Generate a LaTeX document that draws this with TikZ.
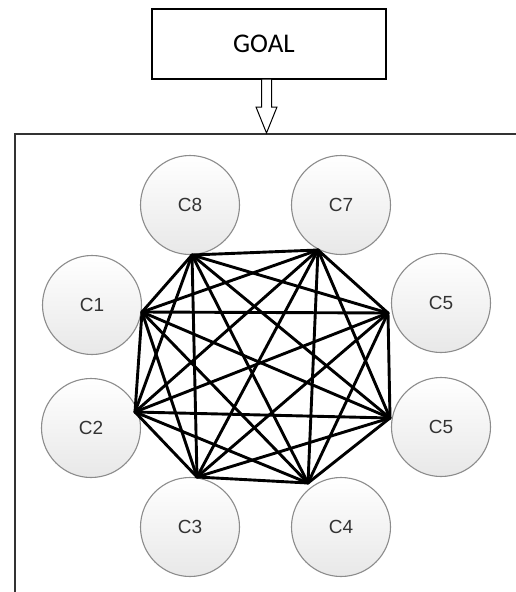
\documentclass[tikz,border=0pt]{standalone}
\usepackage{fontspec}
\setmainfont{Liberation Sans}
\newfontfamily\goalfont{Carlito}
\definecolor{circborder}{HTML}{8C8C8C}
\definecolor{labelgray}{HTML}{333333}
\begin{document}
\begin{tikzpicture}[x=1pt,y=-1pt,
  cnode/.style={circle, draw=circborder, line width=1.1pt, minimum size=99pt, inner sep=0pt,
    top color=white, bottom color=black!9, font=\fontsize{19}{21}\selectfont, text=labelgray},
  edge/.style={line width=2.9pt, black, line cap=round},
  frame/.style={line width=1.4pt, black!80}]
\useasboundingbox (0,0) rectangle (516,592);
% goal box
\node[draw, line width=1.1pt, minimum width=234pt, minimum height=70pt, inner sep=0pt] (goal) at (269,44) {};
\node[font=\goalfont\fontsize{27}{29}\selectfont, inner sep=0pt] (goaltext) at (264,44) {GOAL};
% outer frame (open to right and bottom)
\coordinate (ftl) at (15,134);
\draw[frame] (15,600) -- (ftl) -- (520,134);
% hollow arrow
\draw[line width=1pt, fill=white] (261.5,79) -- (271.5,79) -- (271.5,107) -- (277,107) -- (266.5,133) -- (256,107) -- (261.5,107) -- cycle;
% circles
\node[cnode] (c8) at (190,205) {C8};
\node[cnode] (c7) at (341,205) {C7};
\node[cnode] (c1) at (92,305) {C1};
\node[cnode] (c5a) at (441,303) {C5};
\node[cnode] (c2) at (91,428) {C2};
\node[cnode] (c5b) at (441,427) {C5};
\node[cnode] (c3) at (190,527) {C3};
\node[cnode] (c4) at (341,527) {C4};
% graph vertices
\coordinate (v8) at (192,255);
\coordinate (v7) at (318,250);
\coordinate (v5a) at (388,313);
\coordinate (v5b) at (390,418);
\coordinate (v4) at (308,483);
\coordinate (v3) at (197,477);
\coordinate (v2) at (135,412);
\coordinate (v1) at (142,312);
% complete graph
\foreach \a/\b in {v8/v7,v8/v5a,v8/v5b,v8/v4,v8/v3,v8/v2,v8/v1,
  v7/v5a,v7/v5b,v7/v4,v7/v3,v7/v2,v7/v1,
  v5a/v5b,v5a/v4,v5a/v3,v5a/v2,v5a/v1,
  v5b/v4,v5b/v3,v5b/v2,v5b/v1,
  v4/v3,v4/v2,v4/v1,
  v3/v2,v3/v1,
  v2/v1}
  \draw[edge] (\a) -- (\b);
\end{tikzpicture}
\end{document}
